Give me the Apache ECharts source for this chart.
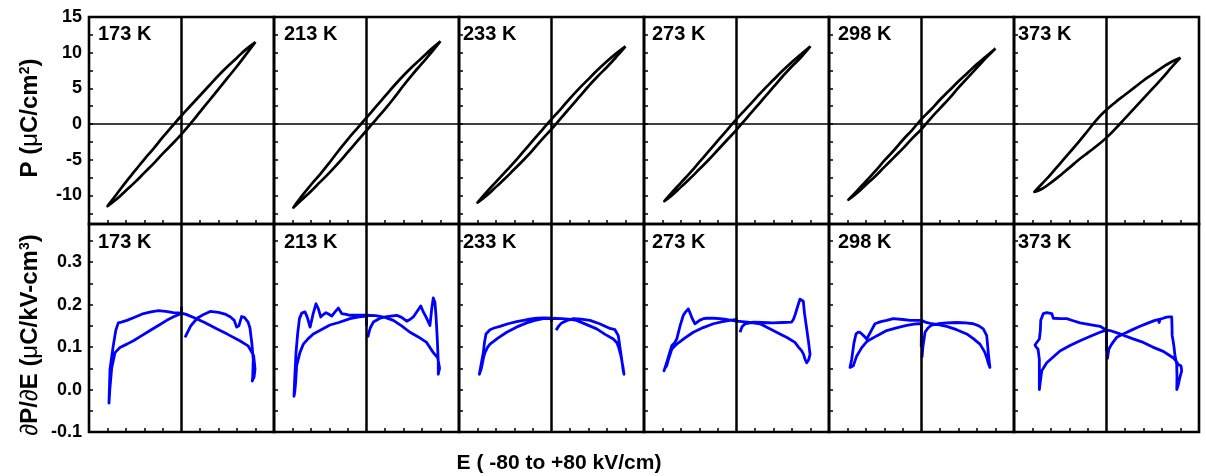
<!DOCTYPE html>
<html>
<head>
<meta charset="utf-8">
<script src="https://cdn.jsdelivr.net/npm/echarts@6/dist/echarts.min.js"></script>
<style>
html,body{margin:0;padding:0;background:#fff;}
#chart{width:1206px;height:476px;}
</style>
</head>
<body>
<div id="chart"></div>
<script>
var temps = ['173 K', '213 K', '233 K', '273 K', '298 K', '373 K'];

// P-E loops: descending branch (+E -> -E) and ascending branch (-E -> +E)
var p173Up = [[80,11.5],[70,10.5],[60,9.3],[50,8.1],[40,6.8],[30,5.4],[20,4.0],[10,2.6],[0,1.2],[-10,-0.3],[-20,-1.8],[-30,-3.4],[-40,-4.9],[-50,-6.5],[-60,-8.1],[-70,-9.8],[-80,-11.5]];
var p173Dn = [[-80,-11.5],[-70,-10.5],[-60,-9.3],[-50,-8.1],[-40,-6.8],[-30,-5.5],[-20,-4.1],[-10,-2.8],[0,-1.4],[10,0.1],[20,1.7],[30,3.3],[40,4.9],[50,6.5],[60,8.1],[70,9.8],[80,11.5]];
var p213Up = [[80,11.6],[70,10.5],[60,9.3],[50,8.1],[40,6.8],[30,5.4],[20,3.9],[10,2.4],[0,0.9],[-10,-0.6],[-20,-2.1],[-30,-3.7],[-40,-5.4],[-50,-7.0],[-60,-8.5],[-70,-10.1],[-79,-11.7]];
var p213Dn = [[-79,-11.7],[-70,-10.6],[-60,-9.4],[-50,-8.1],[-40,-6.8],[-30,-5.4],[-20,-3.9],[-10,-2.4],[0,-0.9],[10,0.6],[20,2.1],[30,3.7],[40,5.4],[50,7.0],[60,8.5],[70,10.0],[80,11.6]];
var p233Up = [[80,10.9],[70,9.9],[60,8.8],[50,7.6],[40,6.3],[30,5.0],[20,3.6],[10,2.1],[0,0.7],[-10,-0.8],[-20,-2.3],[-30,-3.8],[-40,-5.3],[-50,-6.7],[-60,-8.1],[-70,-9.5],[-80,-11.0]];
var p233Dn = [[-80,-11.0],[-70,-10.0],[-60,-8.8],[-50,-7.6],[-40,-6.3],[-30,-5.0],[-20,-3.6],[-10,-2.1],[0,-0.7],[10,0.8],[20,2.3],[30,3.8],[40,5.3],[50,6.7],[60,8.0],[70,9.4],[80,10.9]];
var p273Up = [[80,10.9],[70,9.8],[60,8.7],[50,7.5],[40,6.2],[30,4.9],[20,3.5],[10,2.1],[0,0.7],[-10,-0.8],[-20,-2.3],[-30,-3.8],[-40,-5.3],[-50,-6.8],[-60,-8.2],[-70,-9.6],[-78,-10.8]];
var p273Dn = [[-78,-10.8],[-70,-10.0],[-60,-8.8],[-50,-7.6],[-40,-6.3],[-30,-5.0],[-20,-3.6],[-10,-2.2],[0,-0.8],[10,0.7],[20,2.2],[30,3.7],[40,5.2],[50,6.7],[60,8.1],[70,9.4],[80,10.9]];
var p298Up = [[80,10.6],[70,9.5],[60,8.4],[50,7.2],[40,6.0],[30,4.7],[20,3.4],[10,2.0],[0,0.7],[-10,-0.8],[-20,-2.2],[-30,-3.7],[-40,-5.1],[-50,-6.6],[-60,-8.0],[-70,-9.4],[-79,-10.6]];
var p298Dn = [[-79,-10.6],[-70,-9.7],[-60,-8.5],[-50,-7.3],[-40,-6.0],[-30,-4.7],[-20,-3.4],[-10,-2.0],[0,-0.7],[10,0.8],[20,2.2],[30,3.6],[40,5.1],[50,6.5],[60,7.9],[70,9.3],[80,10.6]];
var p373Up = [[80,9.3],[70,8.7],[60,7.9],[50,7.0],[40,6.1],[30,5.1],[20,4.1],[10,3.1],[0,2.0],[-10,0.7],[-20,-0.9],[-30,-2.5],[-40,-4.0],[-50,-5.5],[-60,-7.0],[-70,-8.4],[-78,-9.5]];
var p373Dn = [[-78,-9.5],[-70,-9.1],[-60,-8.2],[-50,-7.2],[-40,-6.1],[-30,-5.0],[-20,-4.0],[-10,-3.0],[0,-1.9],[10,-0.6],[20,0.8],[30,2.2],[40,3.6],[50,5.0],[60,6.4],[70,7.9],[80,9.3]];

// dP/dE traces, in measured order
var d173 = [[3.8,0.123],[10,0.15],[17,0.168],[24,0.177],[31,0.184],[40,0.182],[48,0.177],[53,0.171],[57,0.163],[59.6,0.147],[62,0.15],[65,0.172],[68,0.17],[72,0.159],[74,0.145],[76,0.11],[77.6,0.071],[77,0.03],[76.5,0.02],[78.5,0.03],[79.5,0.048],[78,0.08],[72,0.103],[63,0.115],[50,0.13],[38,0.143],[25,0.158],[15,0.168],[5,0.177],[0,0.18],[-9,0.181],[-17,0.184],[-25,0.186],[-33,0.183],[-41,0.179],[-50,0.171],[-59,0.163],[-65,0.159],[-68.3,0.157],[-71,0.14],[-74,0.1],[-77.3,0.048],[-78.4,-0.032],[-77.5,0.0],[-75.5,0.05],[-71.9,0.087],[-66.5,0.099],[-59,0.107],[-52,0.115],[-43,0.127],[-34,0.139],[-25,0.151],[-16,0.163],[-8,0.172],[0,0.179],[0,0.195]];
var d213 = [[1.3,0.123],[4,0.145],[7.4,0.159],[14.6,0.168],[22,0.172],[32.6,0.175],[38,0.17],[43.5,0.161],[47,0.165],[50.6,0.171],[55,0.185],[58.6,0.197],[61,0.185],[64.3,0.171],[68.6,0.151],[70.5,0.19],[72.2,0.216],[74,0.205],[75.1,0.175],[76.5,0.12],[77.6,0.063],[77.6,0.036],[79,0.05],[77,0.075],[72.2,0.087],[65,0.111],[56,0.124],[47,0.135],[38,0.15],[29,0.163],[20,0.17],[10,0.174],[0,0.175],[-8,0.175],[-17.8,0.175],[-22,0.177],[-26.8,0.179],[-30.5,0.192],[-34,0.183],[-37.6,0.173],[-41,0.178],[-43.8,0.181],[-47,0.176],[-49.5,0.171],[-52,0.19],[-54.6,0.202],[-57.5,0.18],[-61,0.147],[-64,0.17],[-66.5,0.183],[-70,0.18],[-72.5,0.167],[-74.5,0.13],[-76.2,0.087],[-77.5,0.03],[-78.4,-0.016],[-77.5,-0.005],[-76.5,0.02],[-75.5,0.056],[-72,0.087],[-68.3,0.107],[-63,0.12],[-57.5,0.131],[-48,0.142],[-39.5,0.152],[-30,0.158],[-17.8,0.167],[-8,0.171],[0,0.173],[0,0.15]];
var d233 = [[4.9,0.14],[8,0.15],[11,0.157],[17,0.163],[23.6,0.167],[32,0.166],[41.6,0.163],[52,0.155],[63.2,0.144],[68.6,0.141],[72.2,0.127],[74,0.1],[75.9,0.071],[77.5,0.045],[78.4,0.036],[77.5,0.05],[75,0.08],[72.5,0.1],[70.5,0.111],[66.8,0.119],[58,0.13],[48.9,0.143],[38,0.153],[27.2,0.163],[18,0.166],[10.8,0.167],[0,0.168],[-8,0.169],[-16,0.168],[-26,0.165],[-37.6,0.16],[-47,0.155],[-55.7,0.149],[-62,0.145],[-66.5,0.141],[-70.8,0.131],[-72.5,0.11],[-73.7,0.087],[-76,0.06],[-78,0.036],[-77,0.04],[-75.8,0.05],[-73.5,0.075],[-71.9,0.087],[-69,0.1],[-66.5,0.107],[-58,0.121],[-48.4,0.135],[-38,0.147],[-26.8,0.157],[-18,0.163],[-8.9,0.167],[0,0.167],[0,0.16]];
var d273 = [[3.8,0.135],[6,0.148],[9.2,0.155],[18.2,0.159],[28,0.158],[39.8,0.157],[50,0.158],[59.6,0.159],[61.5,0.165],[63.2,0.175],[66,0.195],[68.6,0.213],[70.5,0.212],[72.2,0.208],[73.5,0.18],[75.9,0.143],[78,0.11],[79.5,0.083],[78,0.07],[75.9,0.063],[74,0.072],[72.5,0.083],[70.5,0.091],[67,0.1],[63.2,0.111],[55,0.122],[47,0.131],[36,0.143],[25.4,0.155],[12,0.159],[0,0.161],[-10.6,0.165],[-18,0.167],[-25,0.168],[-32,0.168],[-35.9,0.167],[-40,0.163],[-44.9,0.155],[-48,0.168],[-50.5,0.182],[-52.1,0.19],[-55,0.183],[-57.5,0.175],[-61,0.15],[-64.6,0.119],[-67,0.11],[-70,0.103],[-72.5,0.085],[-75.5,0.063],[-78.4,0.044],[-77.5,0.05],[-75.5,0.056],[-73,0.075],[-70,0.095],[-67,0.102],[-64.6,0.107],[-56,0.121],[-46.7,0.135],[-36,0.146],[-25,0.155],[-15,0.16],[-7,0.163],[0,0.165],[0,0.168]];
var d298 = [[0.5,0.075],[1.5,0.1],[3.8,0.135],[7,0.145],[11,0.152],[18,0.155],[27.2,0.157],[38,0.158],[48,0.157],[56,0.155],[62,0.15],[66.8,0.143],[70.5,0.127],[72.2,0.087],[73,0.07],[74,0.052],[72.5,0.06],[70.5,0.075],[68.6,0.087],[66,0.097],[63.2,0.107],[56,0.12],[48.9,0.131],[38,0.141],[27.2,0.149],[18,0.153],[11,0.155],[5,0.158],[0,0.163],[-6,0.163],[-12.4,0.163],[-20,0.165],[-30.5,0.167],[-37.6,0.163],[-44,0.16],[-50.3,0.155],[-54,0.14],[-59.2,0.119],[-63,0.128],[-66,0.134],[-68.3,0.135],[-70.8,0.131],[-73,0.11],[-75.5,0.071],[-77.3,0.052],[-75.5,0.052],[-73.7,0.056],[-72,0.067],[-70,0.079],[-67,0.09],[-64.6,0.099],[-59.2,0.113],[-48,0.127],[-37.6,0.139],[-26,0.146],[-16,0.151],[-8,0.154],[-3.5,0.155],[0,0.155],[-0.3,0.1]];
var d373 = [[0.9,0.071],[2.5,0.095],[5.6,0.107],[11,0.123],[18.2,0.131],[27,0.14],[36.2,0.149],[44,0.156],[52.4,0.163],[56,0.165],[57,0.158],[58,0.166],[61.4,0.168],[64,0.17],[66,0.166],[67,0.171],[70.5,0.171],[70.8,0.15],[71,0.127],[72,0.115],[73,0.1],[74,0.08],[75.9,0.06],[76.2,0.03],[76,0.0],[77.5,0.01],[79.5,0.03],[81.3,0.044],[80.5,0.056],[78,0.058],[75.9,0.065],[72,0.075],[67,0.082],[61.4,0.09],[50,0.1],[39.8,0.111],[28,0.12],[14.6,0.131],[3.8,0.139],[0,0.14],[-7,0.149],[-18,0.153],[-28.6,0.157],[-36,0.162],[-43,0.167],[-50,0.167],[-57.5,0.168],[-59.2,0.179],[-64.6,0.181],[-68.3,0.179],[-71.1,0.163],[-71.5,0.14],[-72.6,0.119],[-75,0.112],[-77.3,0.105],[-76,0.1],[-74,0.095],[-72.6,0.071],[-72.6,0.0],[-71.5,0.02],[-70,0.044],[-67,0.055],[-64.6,0.063],[-57,0.078],[-50.3,0.091],[-40,0.103],[-28.6,0.115],[-18,0.125],[-7,0.135],[0,0.14],[0,0.09]];

var pTicks = [-12.5,-10,-7.5,-5,-2.5,0,2.5,5,7.5,10,12.5,15];
var pLabels = [-10,-5,0,5,10,15];
var dTicks = [-0.1,-0.05,0,0.05,0.1,0.15,0.2,0.25,0.3,0.35];
var dLabels = [-0.1,0,0.1,0.2,0.3];
var eTicks = [-80,-60,-40,-20,20,40,60,80];

var loopsUp = [p173Up, p213Up, p233Up, p273Up, p298Up, p373Up];
var loopsDn = [p173Dn, p213Dn, p233Dn, p273Dn, p298Dn, p373Dn];
var derivs = [d173, d213, d233, d273, d298, d373];

var FONT = '"Liberation Sans", Arial, sans-serif';
var panelLeft = 89, panelW = 185;
var rowTop = [17, 224], rowH = [207, 208];
var labelDx = [9, 10, 4, 8, 9, 4];

var grids = [], xAxes = [], yAxes = [], series = [], graphics = [];

for (var r = 0; r < 2; r++) {
  for (var i = 0; i < 6; i++) {
    var k = r * 6 + i;
    grids.push({
      left: panelLeft + panelW * i, top: rowTop[r], width: panelW, height: rowH[r],
      show: true, borderColor: '#000', borderWidth: 2.6, backgroundColor: 'transparent'
    });
    xAxes.push({
      gridIndex: k, type: 'value', min: -100, max: 100, position: 'bottom',
      axisLine: {show: false, onZero: false}, splitLine: {show: false}, axisLabel: {show: false},
      axisTick: {show: true, inside: true, length: 4, customValues: eTicks, lineStyle: {color: '#000', width: 1.5}}
    });
    yAxes.push({
      gridIndex: k, type: 'value',
      min: r == 0 ? -14 : -0.1, max: r == 0 ? 15 : 0.39,
      axisLine: {show: false, onZero: false}, splitLine: {show: false},
      axisTick: {show: true, inside: true, length: 4, customValues: r == 0 ? pTicks : dTicks, lineStyle: {color: '#000', width: 1.5}},
      axisLabel: {
        show: i == 0, customValues: r == 0 ? pLabels : dLabels, margin: 7,
        color: '#000', fontFamily: FONT, fontWeight: 'bold', fontSize: 18,
        formatter: r == 0 ? function (v) { return String(v); } : function (v) { return v.toFixed(1); }
      }
    });
    var mlData = [{xAxis: 0, lineStyle: {color: '#000', width: 2.5, type: 'solid'}}];
    if (r == 0) mlData.push({yAxis: 0, lineStyle: {color: '#000', width: 1.6, type: 'solid'}});
    series.push({
      type: 'line', xAxisIndex: k, yAxisIndex: k,
      data: r == 0 ? loopsUp[i].concat(loopsDn[i]) : derivs[i],
      showSymbol: false, smooth: r == 0 ? 0.5 : false,
      lineStyle: r == 0 ? {color: '#000', width: 2.7, join: 'round'} : {color: '#0000ff', width: 2.8, join: 'round'},
      markLine: {silent: true, symbol: ['none', 'none'], label: {show: false}, data: mlData},
      z: 3
    });
    graphics.push({
      type: 'text', x: panelLeft + panelW * i + labelDx[i], y: r == 0 ? 34 : 242,
      style: {text: temps[i], fill: '#000', font: 'bold 20px ' + FONT, verticalAlign: 'middle'}
    });
  }
}

var rich = {
  b: {fontFamily: FONT, fontWeight: 'bold', fontSize: 24, color: '#000'},
  m: {fontFamily: FONT, fontWeight: 'normal', fontSize: 24, color: '#000'},
  s: {fontFamily: FONT, fontWeight: 'bold', fontSize: 14, color: '#000', verticalAlign: 'top'}
};
graphics.push({
  type: 'text', x: 30, y: 118, rotation: Math.PI / 2,
  style: {text: '{b|P (}{m|μ}{b|C/cm}{s|2}{b|)}', rich: rich, align: 'center', verticalAlign: 'middle'}
});
graphics.push({
  type: 'text', x: 30, y: 335, rotation: Math.PI / 2,
  style: {text: '{m|∂}{b|P/}{m|∂}{b|E (}{m|μ}{b|C/kV-cm}{s|3}{b|)}', rich: rich, align: 'center', verticalAlign: 'middle'}
});
graphics.push({
  type: 'text', x: 559, y: 463,
  style: {text: 'E ( -80 to +80 kV/cm)', fill: '#000', font: 'bold 21px ' + FONT, align: 'center', verticalAlign: 'middle'}
});

var chart = echarts.init(document.getElementById('chart'));
chart.setOption({
  animation: false,
  backgroundColor: '#fff',
  grid: grids,
  xAxis: xAxes,
  yAxis: yAxes,
  series: series,
  graphic: graphics
});
</script>
</body>
</html>
